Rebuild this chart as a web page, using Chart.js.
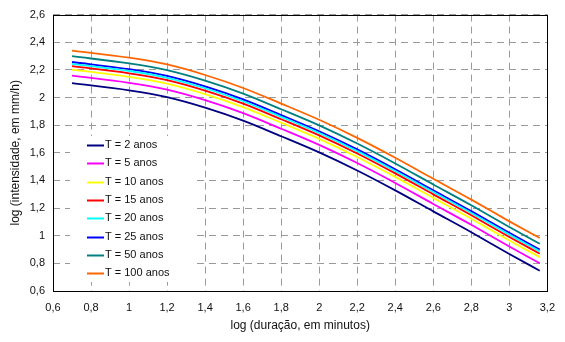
<!DOCTYPE html>
<html>
<head>
<meta charset="utf-8">
<script src="https://cdn.jsdelivr.net/npm/chart.js@4.4.1/dist/chart.umd.min.js"></script>
<style>
  html, body { margin: 0; padding: 0; background: #fff; }
  .chart { width: 565px; height: 342px; }
</style>
</head>
<body>
<div class="chart">
  <canvas id="idfChart" width="565" height="342"></canvas>
</div>
<script>
// log da duração (min) e log da intensidade (mm/h) para cada período de retorno
const duracao = [0.70, 1.00, 1.20, 1.40, 1.60, 1.80, 2.00, 2.20, 2.40, 2.60, 2.80, 3.00, 3.16];
const t2   = [2.104, 2.052, 2.003, 1.927, 1.833, 1.720, 1.603, 1.472, 1.328, 1.176, 1.025, 0.868, 0.747];
const t5   = [2.158, 2.106, 2.057, 1.981, 1.887, 1.774, 1.657, 1.526, 1.382, 1.230, 1.079, 0.922, 0.801];
const t10  = [2.202, 2.150, 2.101, 2.025, 1.931, 1.818, 1.701, 1.570, 1.426, 1.274, 1.123, 0.966, 0.845];
const t15  = [2.227, 2.175, 2.126, 2.050, 1.956, 1.843, 1.726, 1.595, 1.451, 1.299, 1.148, 0.991, 0.870];
const t20  = [2.244, 2.192, 2.143, 2.067, 1.973, 1.860, 1.743, 1.612, 1.468, 1.316, 1.165, 1.008, 0.887];
const t25  = [2.257, 2.205, 2.156, 2.080, 1.986, 1.873, 1.756, 1.625, 1.481, 1.329, 1.178, 1.021, 0.900];
const t50  = [2.299, 2.247, 2.198, 2.122, 2.028, 1.915, 1.798, 1.667, 1.523, 1.371, 1.220, 1.063, 0.942];
const t100 = [2.340, 2.288, 2.239, 2.163, 2.069, 1.956, 1.839, 1.708, 1.564, 1.412, 1.261, 1.104, 0.983];

const labels = ['T = 2 anos', 'T = 5 anos', 'T = 10 anos', 'T = 15 anos',
                'T = 20 anos', 'T = 25 anos', 'T = 50 anos', 'T = 100 anos'];
const series = [t2, t5, t10, t15, t20, t25, t50, t100];
const colors = ['#000080', '#ff00ff', '#ffff00', '#ff0000',
                '#00ffff', '#0000ff', '#008080', '#ff6600'];

const FONT = 'Liberation Sans, Arial, sans-serif';

// virgula como separador decimal
const fmt = v => (Math.round(v * 10) / 10).toString().replace('.', ',');

// moldura preta em volta da área do gráfico
const frame = {
  id: 'frame',
  afterDraw(chart) {
    const { ctx, chartArea: a } = chart;
    ctx.save();
    ctx.setLineDash([]);
    ctx.strokeStyle = '#000';
    ctx.lineWidth = 1;
    ctx.strokeRect(Math.round(a.left) + 0.5, Math.round(a.top) + 0.5,
                   Math.round(a.right - a.left), Math.round(a.bottom - a.top));
    ctx.restore();
  }
};

// legenda com fundo branco dentro da área do gráfico
const boxLegend = {
  id: 'boxLegend',
  afterDatasetsDraw(chart) {
    const ctx = chart.ctx;
    const x0 = 70, y0 = 136, w = 125, h = 146;
    ctx.save();
    ctx.fillStyle = '#fff';
    ctx.fillRect(x0, y0, w, h);
    ctx.font = '11px ' + FONT;
    ctx.textBaseline = 'middle';
    chart.data.datasets.forEach((ds, i) => {
      const y = 145 + i * 18.3;
      ctx.strokeStyle = ds.borderColor;
      ctx.lineWidth = 2;
      ctx.beginPath();
      ctx.moveTo(87, Math.round(y) + 0.5);
      ctx.lineTo(104, Math.round(y) + 0.5);
      ctx.stroke();
      ctx.fillStyle = '#111';
      ctx.fillText(ds.label, 105, y);
    });
    ctx.restore();
  }
};

const ctx = document.getElementById('idfChart');
new Chart(ctx, {
  type: 'line',
  data: {
    datasets: series.map((s, i) => ({
      label: labels[i],
      data: s.map((v, j) => ({ x: duracao[j], y: v })),
      borderColor: colors[i],
      backgroundColor: colors[i],
      borderWidth: 1.8,
      pointRadius: 0,
      fill: false,
      cubicInterpolationMode: 'monotone'
    }))
  },
  options: {
    responsive: false,
    animation: false,
    layout: { padding: { top: 14, right: 15, left: 0, bottom: 0 } },
    plugins: {
      legend: { display: false },
      tooltip: { enabled: false }
    },
    scales: {
      x: {
        type: 'linear',
        min: 0.6,
        max: 3.2,
        afterFit: s => { s.height = 51; },
        ticks: { stepSize: 0.2, padding: 10, color: '#111', font: { family: FONT, size: 11 }, callback: fmt, maxRotation: 0 },
        grid: { color: '#9a9a9a', drawTicks: false },
        border: { display: false, dash: [7, 5] },
        title: { display: true, text: 'log (duração, em minutos)', color: '#111', font: { family: FONT, size: 12 }, padding: { top: 0, bottom: 9 } }
      },
      y: {
        min: 0.6,
        max: 2.6,
        afterFit: s => { s.width = 53; },
        ticks: { stepSize: 0.2, padding: 8, color: '#111', font: { family: FONT, size: 11 }, callback: fmt },
        grid: { color: '#9a9a9a', drawTicks: false },
        border: { display: false, dash: [7, 5] },
        title: { display: true, text: 'log (intensidade, em mm/h)', color: '#111', font: { family: FONT, size: 12 }, padding: { top: 8, bottom: 0 } }
      }
    }
  },
  plugins: [frame, boxLegend]
});
</script>
</body>
</html>
